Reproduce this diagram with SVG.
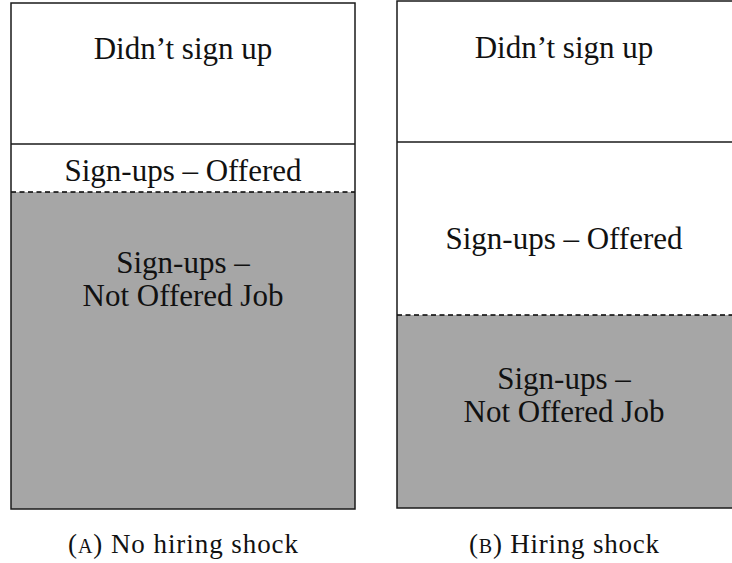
<svg xmlns="http://www.w3.org/2000/svg" width="732" height="563" viewBox="0 0 732 563">
<style>
.box{fill:none;stroke:#1a1a1a;stroke-width:1.5}
.sep{stroke:#1a1a1a;stroke-width:1.3}
.dash{stroke:#000;stroke-width:1.6;stroke-dasharray:5 3.5}
.gray{fill:#a6a6a6}
.lbl{font-family:"Liberation Serif",serif;font-size:31px;fill:#111;text-anchor:middle}
.cap{font-family:"Liberation Serif",serif;font-size:27px;fill:#111;text-anchor:middle}
</style>
<g id="panelA">
<rect class="gray" x="11" y="192" width="344" height="317"/>
<line class="sep" x1="11" y1="144" x2="355" y2="144"/>
<line class="dash" x1="11" y1="192" x2="355" y2="192"/>
<rect class="box" x="11" y="3" width="344" height="506"/>
<text class="lbl" x="183" y="59">Didn’t sign up</text>
<text class="lbl" x="183" y="181">Sign-ups – Offered</text>
<text class="lbl" x="183" y="273">Sign-ups –</text>
<text class="lbl" x="183" y="306">Not Offered Job</text>
<text class="cap" x="183" y="553" textLength="230" lengthAdjust="spacing">(<tspan font-size="20">A</tspan>) No hiring shock</text>
</g>
<g id="panelB">
<rect class="gray" x="397" y="315" width="340" height="193"/>
<line class="sep" x1="397" y1="142" x2="732" y2="142"/>
<line class="dash" x1="397" y1="315" x2="732" y2="315"/>
<rect class="box" x="397" y="1" width="340" height="507"/>
<text class="lbl" x="564" y="58">Didn’t sign up</text>
<text class="lbl" x="564" y="249">Sign-ups – Offered</text>
<text class="lbl" x="564" y="389">Sign-ups –</text>
<text class="lbl" x="564" y="422">Not Offered Job</text>
<text class="cap" x="564" y="553" textLength="190" lengthAdjust="spacing">(<tspan font-size="20">B</tspan>) Hiring shock</text>
</g>
<g id="connectors"/>
</svg>
